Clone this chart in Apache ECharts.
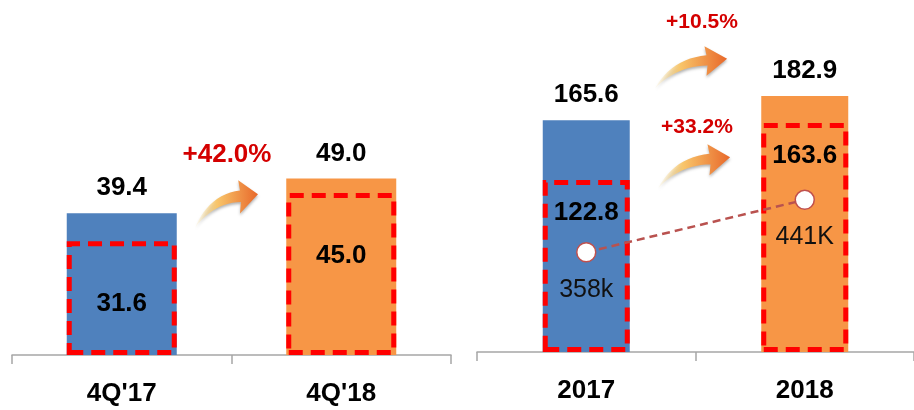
<!DOCTYPE html>
<html>
<head>
<meta charset="utf-8">
<script src="https://cdn.jsdelivr.net/npm/echarts@6/dist/echarts.min.js"></script>
<style>
  html, body { margin: 0; padding: 0; background: #fff; }
  #chart { width: 914px; height: 410px; }
</style>
</head>
<body>
<div id="chart"></div>
<script>
// quarterly panel
const quarterCats = ["4Q'17", "4Q'18"]
const quarterTotal = [39.4, 49.0]
const quarterPart = [31.6, 45.0]
const quarterGrowth = '+42.0%'

// yearly panel
const yearCats = ['2017', '2018']
const yearTotal = [165.6, 182.9]
const yearPart = [122.8, 163.6]
const yearCount = [358, 441]
const yearCountLabels = ['358k', '441K']
const yearGrowthTotal = '+10.5%'
const yearGrowthPart = '+33.2%'

const barColors = ['#4f81bd', '#f79646']
const FONT = 'Arial, "Liberation Sans", sans-serif'

// curved arrow outline, sampled from two quadratic curves
function quad(p0, c, p1, n) {
  const pts = []
  for (let i = 0; i <= n; i++) {
    const t = i / n
    const a = (1 - t) * (1 - t), b = 2 * (1 - t) * t, d = t * t
    pts.push([a * p0[0] + b * c[0] + d * p1[0], a * p0[1] + b * c[1] + d * p1[1]])
  }
  return pts
}
function arrowPoints() {
  const upper = quad([0, 38], [16, 12], [50, 9], 12)
  const head = [[48, 1], [70, 12], [50, 27], [51, 18]]
  const lower = quad([51, 18], [22, 18], [0, 38], 12)
  return upper.concat(head, lower)
}
function arrow(x, y, sx, sy) {
  return {
    type: 'polygon',
    x: x, y: y, scaleX: sx, scaleY: sy,
    shape: { points: arrowPoints() },
    style: {
      fill: {
        type: 'linear', x: 0, y: 0, x2: 1, y2: 0,
        colorStops: [
          { offset: 0, color: 'rgba(252,232,170,0.1)' },
          { offset: 0.35, color: '#f8c56a' },
          { offset: 1, color: '#e8682a' }
        ]
      },
      shadowColor: 'rgba(0,0,0,0.3)',
      shadowBlur: 3,
      shadowOffsetY: 2
    },
    z: 10
  }
}
function growthText(text, x, y, size) {
  return {
    type: 'text',
    x: x, y: y,
    style: {
      text: text,
      fill: '#d40000',
      font: 'bold ' + size + 'px ' + FONT,
      align: 'center',
      verticalAlign: 'middle',
      shadowColor: 'rgba(0,0,0,0.4)',
      shadowOffsetX: 1,
      shadowOffsetY: 1,
      shadowBlur: 1
    },
    z: 10
  }
}

const axisCommon = {
  type: 'category',
  axisLine: { lineStyle: { color: '#a6a6a6', width: 1.5 } },
  axisTick: { show: true, length: 9, lineStyle: { color: '#a6a6a6', width: 1.5 } },
  axisLabel: { color: '#000', fontSize: 26, fontWeight: 'bold', fontFamily: FONT, margin: 26 }
}

const valueLabel = {
  show: true,
  position: 'top',
  distance: 12,
  color: '#000',
  fontSize: 26,
  fontWeight: 'bold',
  fontFamily: FONT,
  formatter: p => p.value.toFixed(1)
}
const dashStyle = {
  color: 'rgba(0,0,0,0)',
  borderColor: '#ff0000',
  borderWidth: 5,
  borderType: [14, 8]
}

const chart = echarts.init(document.getElementById('chart'))
chart.setOption({
  animation: false,
  grid: [
    { left: 12, width: 439, top: 31, bottom: 55 },
    { left: 477, width: 442, top: 30, bottom: 58 }
  ],
  xAxis: [
    Object.assign({ gridIndex: 0, data: quarterCats }, axisCommon),
    Object.assign({ gridIndex: 1, data: yearCats }, axisCommon)
  ],
  yAxis: [
    { gridIndex: 0, type: 'value', min: 0, max: 90, show: false },
    { gridIndex: 1, type: 'value', min: 0, max: 230, show: false },
    { gridIndex: 1, type: 'value', min: 200, max: 710, show: false }
  ],
  series: [
    {
      type: 'bar',
      xAxisIndex: 0, yAxisIndex: 0,
      barWidth: 110,
      data: quarterTotal.map((v, i) => ({ value: v, itemStyle: { color: barColors[i] } })),
      label: valueLabel,
      z: 2
    },
    {
      type: 'bar',
      xAxisIndex: 0, yAxisIndex: 0,
      barWidth: 110,
      barGap: '-100%',
      data: quarterPart,
      itemStyle: dashStyle,
      label: Object.assign({}, valueLabel, { position: 'insideTop', distance: 50 }),
      z: 3
    },
    {
      type: 'bar',
      xAxisIndex: 1, yAxisIndex: 1,
      barWidth: 87,
      data: yearTotal.map((v, i) => ({ value: v, itemStyle: { color: barColors[i] } })),
      label: valueLabel,
      z: 2
    },
    {
      type: 'bar',
      xAxisIndex: 1, yAxisIndex: 1,
      barWidth: 87,
      barGap: '-100%',
      data: yearPart,
      itemStyle: dashStyle,
      label: Object.assign({}, valueLabel, { position: 'insideTop', distance: 20 }),
      z: 3
    },
    {
      type: 'line',
      xAxisIndex: 1, yAxisIndex: 2,
      data: yearCount,
      symbol: 'circle',
      symbolSize: 19,
      itemStyle: { color: '#fff', borderColor: '#c0504d', borderWidth: 1.5 },
      lineStyle: { color: '#b9524f', width: 2.5, type: [8, 5] },
      label: {
        show: true,
        position: 'bottom',
        distance: 15,
        color: '#111',
        fontSize: 25,
        fontFamily: FONT,
        formatter: p => yearCountLabels[p.dataIndex]
      },
      z: 5
    }
  ],
  graphic: [
    arrow(195, 179, 0.9, 1.28),
    arrow(655, 45, 1.03, 1.14),
    arrow(658, 143, 1.03, 1.19),
    growthText(quarterGrowth, 227, 155, 26),
    growthText(yearGrowthTotal, 702, 22, 21),
    growthText(yearGrowthPart, 697, 127, 21)
  ]
})
</script>
</body>
</html>
